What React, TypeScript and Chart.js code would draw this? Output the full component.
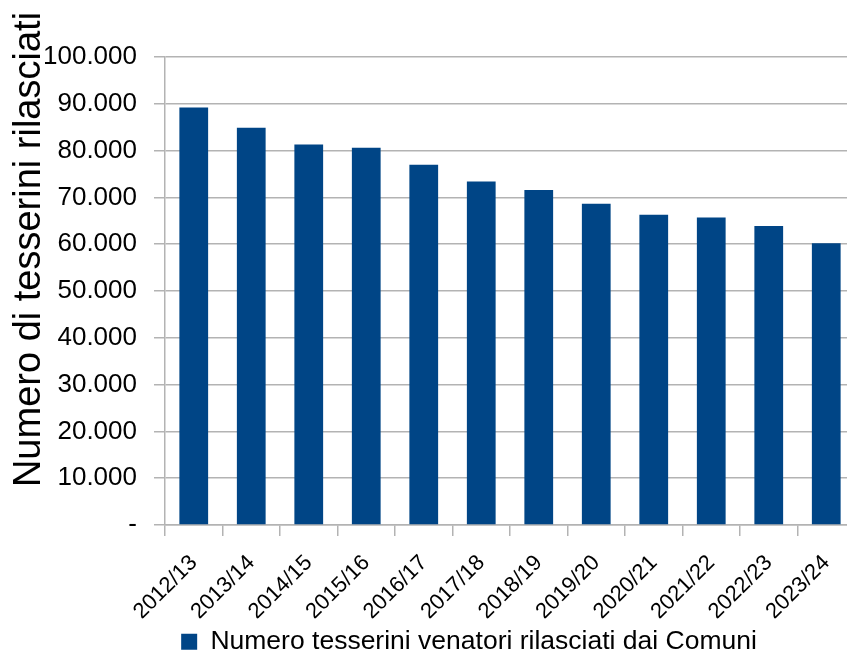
import React, { useEffect, useRef } from "react";
import { Chart, registerables } from "chart.js";

Chart.register(...registerables);

const categories = [
  "2012/13", "2013/14", "2014/15", "2015/16", "2016/17", "2017/18",
  "2018/19", "2019/20", "2020/21", "2021/22", "2022/23", "2023/24",
];
const values = [89200, 84900, 81300, 80600, 77000, 73400, 71600, 68650, 66300, 65700, 63900, 60200];
const seriesLabel = "Numero tesserini venatori rilasciati dai Comuni";
const yTitle = "Numero di tesserini rilasciati";
const yMin = 0;
const yMax = 100000;
const yStep = 10000;

const FONT = "'Liberation Sans', Arial, sans-serif";
const BAR = "#004586";
const GRID = "#b3b3b3";

function fmt(v: number): string {
  if (v === 0) return "-";
  return String(v).replace(/\B(?=(\d{3})+(?!\d))/g, ".");
}

const yTitlePlugin = {
  id: "yTitlePlugin",
  afterDraw(chart: any) {
    const ctx = chart.ctx;
    ctx.save();
    ctx.font = `38px ${FONT}`;
    ctx.fillStyle = "#000";
    ctx.textAlign = "center";
    ctx.textBaseline = "alphabetic";
    ctx.translate(40, 249.5);
    ctx.rotate(-Math.PI / 2);
    ctx.fillText(yTitle, 0, 0);
    ctx.restore();
  },
};

export default function App() {
  const ref = useRef<HTMLCanvasElement | null>(null);
  useEffect(() => {
    if (!ref.current) return;
    const chart = new Chart(ref.current, {
      type: "bar",
      data: {
        labels: categories,
        datasets: [
          {
            label: seriesLabel,
            data: values,
            backgroundColor: BAR,
            borderWidth: 0,
            barPercentage: 1,
            categoryPercentage: 0.5,
          },
        ],
      },
      options: {
        animation: false,
        responsive: false,
        devicePixelRatio: 1,
        layout: { padding: { left: 43, right: 0, top: 57, bottom: 0 } },
        plugins: {
          tooltip: { enabled: false },
          legend: {
            position: "bottom",
            labels: {
              color: "#000",
              font: { family: FONT, size: 26.5 },
              boxWidth: 16,
              boxHeight: 16,
              padding: 10,
            },
          },
        },
        scales: {
          x: {
            grid: {
              drawOnChartArea: false,
              drawTicks: true,
              tickLength: 11,
              color: GRID,
              lineWidth: 1.5,
            },
            border: { display: true, color: GRID, width: 1.5 },
            ticks: {
              color: "#000",
              font: { family: FONT, size: 22 },
              minRotation: 45,
              maxRotation: 45,
              padding: 14,
              autoSkip: false,
            },
            afterFit(s: any) {
              s.height = 93.5;
              s.paddingLeft = 0;
              s.paddingRight = 0;
            },
          },
          y: {
            min: yMin,
            max: yMax,
            grid: {
              drawOnChartArea: true,
              drawTicks: true,
              tickLength: 11,
              color: GRID,
              lineWidth: 1.5,
            },
            border: { display: true, color: GRID, width: 1.5 },
            ticks: {
              stepSize: yStep,
              color: "#000",
              font: { family: FONT, size: 26 },
              padding: 17,
              callback: (v: any) => fmt(Number(v)),
            },
            afterFit(s: any) {
              s.width = 122;
            },
          },
          yR: {
            type: "linear",
            position: "right",
            display: true,
            grid: { display: false, drawTicks: false },
            border: { display: false },
            ticks: { display: false },
            afterFit(s: any) {
              s.width = 40;
            },
          },
        },
      } as any,
      plugins: [yTitlePlugin],
    });
    return () => chart.destroy();
  }, []);

  return (
    <div
      style={{
        position: "fixed",
        left: 0,
        top: 0,
        width: 847,
        height: 653,
        overflow: "hidden",
        background: "#fff",
      }}
    >
      <canvas ref={ref} width={895} height={665} style={{ width: 895, height: 665, display: "block" }} />
    </div>
  );
}
